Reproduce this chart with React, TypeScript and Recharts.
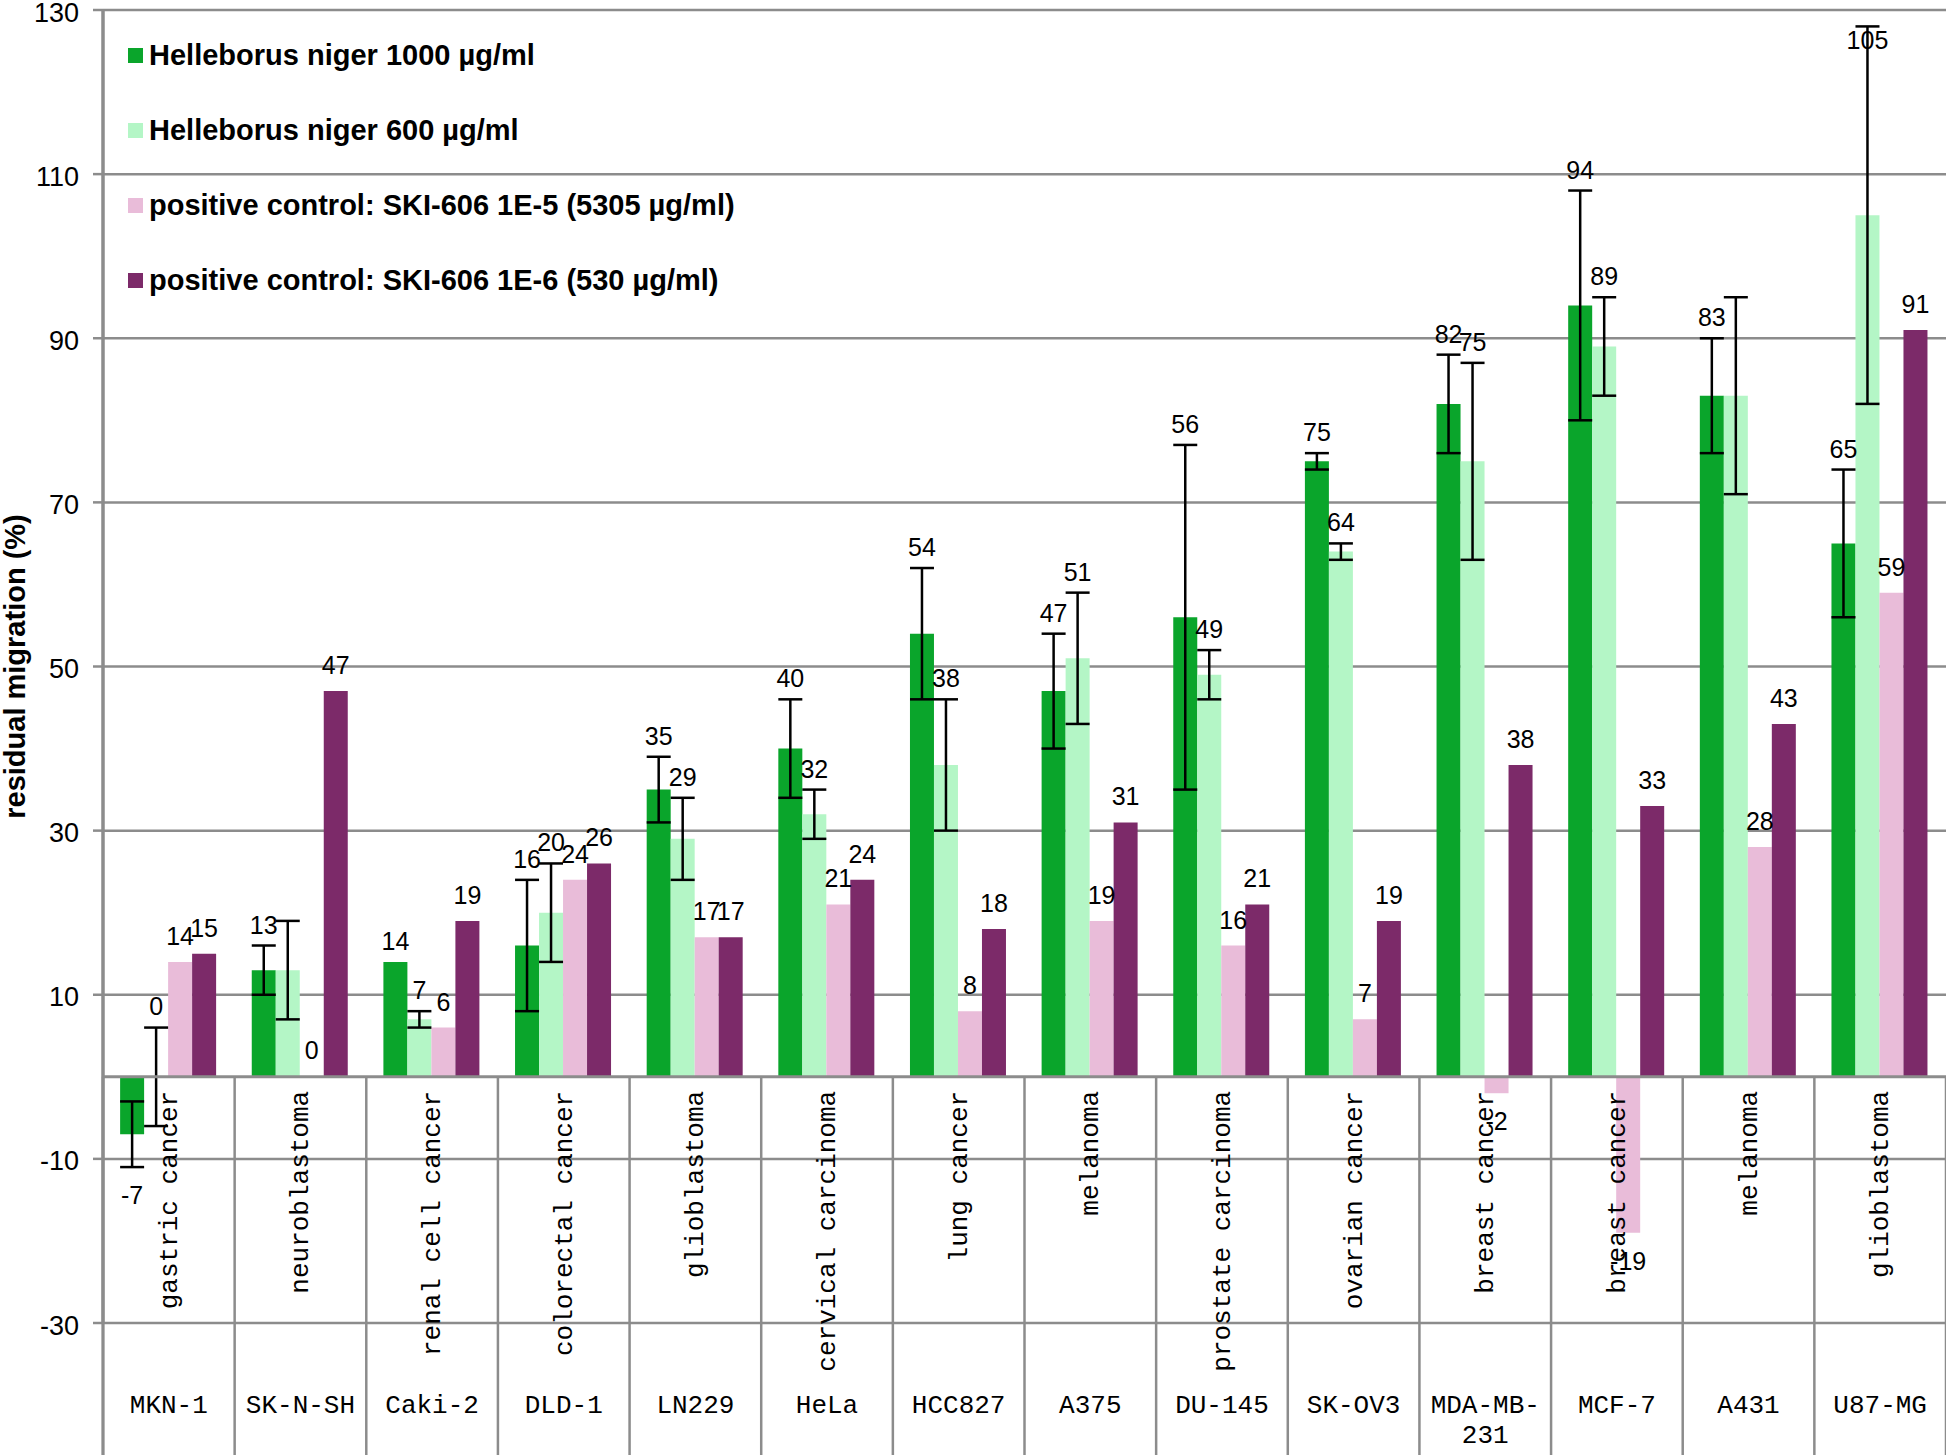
import React from 'react';
import {
  BarChart,
  Bar,
  XAxis,
  YAxis,
  CartesianGrid,
  ReferenceLine,
  ErrorBar,
  LabelList,
} from 'recharts';

const cellLines = [
  'MKN-1', 'SK-N-SH', 'Caki-2', 'DLD-1', 'LN229', 'HeLa', 'HCC827',
  'A375', 'DU-145', 'SK-OV3', 'MDA-MB-231', 'MCF-7', 'A431', 'U87-MG',
];
const diseases = [
  'gastric cancer', 'neuroblastoma', 'renal cell cancer', 'colorectal cancer',
  'glioblastoma', 'cervical carcinoma', 'lung cancer', 'melanoma',
  'prostate carcinoma', 'ovarian cancer', 'breast cancer', 'breast cancer',
  'melanoma', 'glioblastoma',
];
const hn1000 = [-7, 13, 14, 16, 35, 40, 54, 47, 56, 75, 82, 94, 83, 65];
const hn1000Err = [4, 3, 0, 8, 4, 6, 8, 7, 21, 1, 6, 14, 7, 9];
const hn600 = [0, 13, 7, 20, 29, 32, 38, 51, 49, 64, 75, 89, 83, 105];
const hn600Err = [6, 6, 1, 6, 5, 3, 8, 8, 3, 1, 12, 6, 12, 23];
const ski1e5 = [14, 0, 6, 24, 17, 21, 8, 19, 16, 7, -2, -19, 28, 59];
const ski1e6 = [15, 47, 19, 26, 17, 24, 18, 31, 21, 19, 38, 33, 43, 91];
// labels that sit on top of a neighbour's identical label in the original
const hn600HiddenLabels = ['SK-N-SH', 'A431'];
const yTicks = [-30, -10, 10, 30, 50, 70, 90, 110, 130];

const series = [
  { key: 'hn1000', name: 'Helleborus niger 1000 µg/ml', color: '#0aa52b' },
  { key: 'hn600', name: 'Helleborus niger 600 µg/ml', color: '#b4f6c6' },
  { key: 'ski1e5', name: 'positive control: SKI-606 1E-5 (5305 µg/ml)', color: '#e9bcd9' },
  { key: 'ski1e6', name: 'positive control: SKI-606 1E-6 (530 µg/ml)', color: '#7c2a69' },
];

const data = cellLines.map((cell, i) => ({
  cell,
  disease: diseases[i],
  hn1000: hn1000[i],
  hn1000Err: hn1000Err[i],
  hn600: hn600[i],
  hn600Err: hn600Err[i],
  ski1e5: ski1e5[i],
  ski1e6: ski1e6[i],
}));

const W = 1946;
const H = 1455;
const TOP = 10;
const Y_AXIS_W = 103;
const X_AXIS_H = 132;
const PLOT_H = H - TOP - X_AXIS_H;
const PLOT_W = W - Y_AXIS_W;
const Y_MIN = -30;
const Y_MAX = 130;
const PX_PER_UNIT = PLOT_H / (Y_MAX - Y_MIN);
const ZERO_Y = TOP + Y_MAX * PX_PER_UNIT;
const BAND = PLOT_W / cellLines.length;
const GRID = '#8c8c8c';
const SANS = "'Liberation Sans', Arial, sans-serif";

function makeLabel(key: string, errKey: string | null, hidden: string[] = []) {
  return (props: any) => {
    const row = props.value;
    if (!row || hidden.includes(row.cell)) return null;
    const vb = props.viewBox || props;
    const value = row[key];
    const x = Number(vb.x);
    const y = Number(vb.y);
    const w = Number(vb.width);
    const h = Number(vb.height) || 0;
    const err = errKey ? row[errKey] : 0;
    let cy: number;
    if (value >= 0) {
      cy = Math.min(y, y + h) - err * PX_PER_UNIT - (errKey ? 21 : 26);
    } else {
      cy = Math.max(y, y + h) + err * PX_PER_UNIT + 28;
    }
    // keep labels inside the plot frame
    cy = Math.max(cy, TOP + 30);
    return (
      <text
        x={x + w / 2}
        y={cy}
        textAnchor="middle"
        dominantBaseline="central"
        fontFamily={SANS}
        fontSize={25}
        fill="#000"
      >
        {value}
      </text>
    );
  };
}

const CategoryTick = (props: any) => {
  const { x, index } = props;
  const row = data[index];
  const left = x - BAND / 2;
  const mono = "'Liberation Mono', 'Courier New', monospace";
  let lines = [row.cell];
  if (row.cell.length > 8) {
    const cut = row.cell.lastIndexOf('-') + 1;
    lines = [row.cell.slice(0, cut), row.cell.slice(cut)];
  }
  const lx = x + 8;
  const ly = ZERO_Y + 14;
  return (
    <g>
      <line x1={left} y1={ZERO_Y} x2={left} y2={H} stroke={GRID} strokeWidth={2.5} />
      {index === cellLines.length - 1 && (
        <line x1={left + BAND} y1={ZERO_Y} x2={left + BAND} y2={H} stroke={GRID} strokeWidth={2.5} />
      )}
      {index === 0 && (
        <line x1={left} y1={TOP} x2={left} y2={H} stroke={GRID} strokeWidth={3} />
      )}
      <text
        x={lx}
        y={ly}
        transform={`rotate(-90, ${lx}, ${ly})`}
        textAnchor="end"
        fontFamily={mono}
        fontSize={26}
        fill="#000"
      >
        {row.disease}
      </text>
      {lines.map((t, k) => (
        <text
          key={k}
          x={x}
          y={1406 + k * 30}
          textAnchor="middle"
          dominantBaseline="central"
          fontFamily={mono}
          fontSize={26}
          fill="#000"
        >
          {t}
        </text>
      ))}
    </g>
  );
};

const YTitle = () => (
  <text
    x={25}
    y={TOP + PLOT_H / 2}
    transform={`rotate(-90, 25, ${TOP + PLOT_H / 2})`}
    textAnchor="middle"
    fontFamily={SANS}
    fontWeight="bold"
    fontSize={29}
    fill="#000"
  >
    residual migration (%)
  </text>
);

const LegendBox = () => (
  <div
    style={{
      position: 'absolute',
      left: 128,
      top: 18,
      fontFamily: SANS,
      fontWeight: 'bold',
      fontSize: 29,
      color: '#000',
    }}
  >
    {series.map((s) => (
      <div key={s.key} style={{ display: 'flex', alignItems: 'center', height: 75 }}>
        <span style={{ width: 15, height: 15, background: s.color, marginRight: 6, display: 'inline-block' }} />
        <span style={{ whiteSpace: 'nowrap' }}>{s.name}</span>
      </div>
    ))}
  </div>
);

const rowOf = (d: any) => d;

export default function App() {
  return (
    <div style={{ position: 'absolute', left: 0, top: 0, width: W, height: H, background: '#fff' }}>
      <BarChart
        width={W}
        height={H}
        data={data}
        margin={{ top: TOP, right: 0, bottom: 0, left: 0 }}
        barCategoryGap="13%"
        barGap={0}
      >
        <CartesianGrid horizontal vertical={false} stroke={GRID} strokeWidth={2.5} />
        <YAxis
          width={Y_AXIS_W}
          domain={[Y_MIN, Y_MAX]}
          ticks={yTicks}
          interval={0}
          allowDataOverflow
          axisLine={{ stroke: GRID, strokeWidth: 3 }}
          tickLine={{ stroke: GRID, strokeWidth: 2.5 }}
          tickSize={10}
          tickMargin={14}
          tick={{ fontSize: 27, fill: '#000', fontFamily: SANS, dy: 2 }}
          label={<YTitle />}
        />
        <Bar dataKey="hn1000" name={series[0].name} fill={series[0].color} minPointSize={0.5} isAnimationActive={false}>
          <ErrorBar dataKey="hn1000Err" width={12} stroke="#000" strokeWidth={2.5} direction="y" />
          <LabelList dataKey={rowOf} content={makeLabel('hn1000', 'hn1000Err')} />
        </Bar>
        <Bar dataKey="hn600" name={series[1].name} fill={series[1].color} minPointSize={0.5} isAnimationActive={false}>
          <ErrorBar dataKey="hn600Err" width={12} stroke="#000" strokeWidth={2.5} direction="y" />
          <LabelList dataKey={rowOf} content={makeLabel('hn600', 'hn600Err', hn600HiddenLabels)} />
        </Bar>
        <Bar dataKey="ski1e5" name={series[2].name} fill={series[2].color} minPointSize={0.5} isAnimationActive={false}>
          <LabelList dataKey={rowOf} content={makeLabel('ski1e5', null)} />
        </Bar>
        <Bar dataKey="ski1e6" name={series[3].name} fill={series[3].color} minPointSize={0.5} isAnimationActive={false}>
          <LabelList dataKey={rowOf} content={makeLabel('ski1e6', null)} />
        </Bar>
        <ReferenceLine y={0} stroke={GRID} strokeWidth={3} />
        <XAxis
          dataKey="cell"
          height={X_AXIS_H}
          interval={0}
          axisLine={false}
          tickLine={false}
          tick={<CategoryTick />}
        />
      </BarChart>
      <LegendBox />
    </div>
  );
}
